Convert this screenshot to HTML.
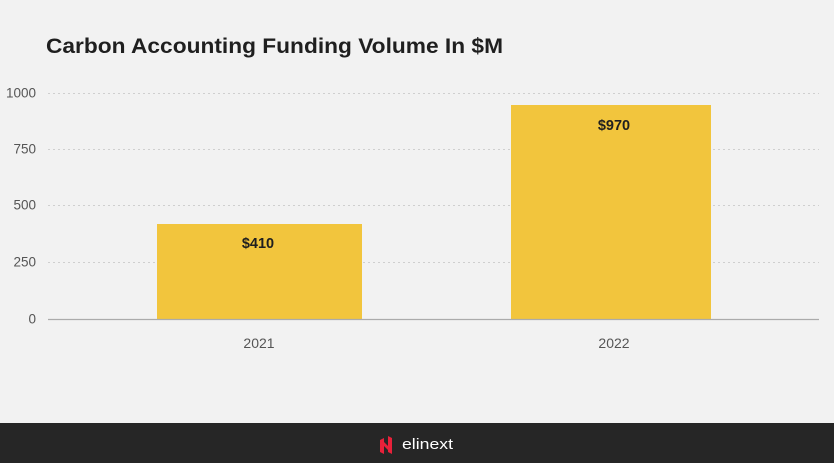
<!DOCTYPE html>
<html>
<head>
<meta charset="utf-8">
<style>
  html, body { margin: 0; padding: 0; background: #f2f2f2; }
  body { width: 834px; height: 463px; overflow: hidden; }
  svg { display: block; }
  text { font-family: "Liberation Sans", "DejaVu Sans", sans-serif; }
</style>
</head>
<body>
<svg width="834" height="463" viewBox="0 0 834 463" xmlns="http://www.w3.org/2000/svg">
  <rect x="0" y="0" width="834" height="463" fill="#f2f2f2"/>

  <!-- Title -->
  <text x="46" y="53" font-size="21" font-weight="bold" fill="#1f1f1f" textLength="457" lengthAdjust="spacingAndGlyphs">Carbon Accounting Funding Volume In $M</text>

  <!-- Gridlines -->
  <g stroke="#cfcfcf" stroke-width="1" stroke-dasharray="2,3">
    <line x1="48" y1="93.5" x2="819" y2="93.5"/>
    <line x1="48" y1="149.5" x2="819" y2="149.5"/>
    <line x1="48" y1="205.5" x2="819" y2="205.5"/>
    <line x1="48" y1="262.5" x2="819" y2="262.5"/>
  </g>

  <!-- Y tick labels -->
  <g font-size="13.5" fill="#555555" text-anchor="end">
    <text x="36" y="97.5">1000</text>
    <text x="36" y="153.5">750</text>
    <text x="36" y="209.5">500</text>
    <text x="36" y="266.5">250</text>
    <text x="36" y="323.5">0</text>
  </g>

  <!-- Bars -->
  <rect x="157" y="224" width="205" height="95.5" fill="#f2c53d"/>
  <rect x="511" y="105" width="200" height="214.5" fill="#f2c53d"/>

  <!-- Baseline -->
  <line x1="48" y1="319.5" x2="819" y2="319.5" stroke="#ababab" stroke-width="1.2"/>

  <!-- Bar labels -->
  <g font-size="14.5" font-weight="bold" fill="#1f1f1f" text-anchor="middle">
    <text x="258" y="248">$410</text>
    <text x="614" y="130">$970</text>
  </g>

  <!-- X labels -->
  <g font-size="14" fill="#555555" text-anchor="middle">
    <text x="259" y="348">2021</text>
    <text x="614" y="348">2022</text>
  </g>

  <!-- Footer -->
  <rect x="0" y="423" width="834" height="40" fill="#262626"/>
  <!-- Logo icon -->
  <g fill="#e8213a">
    <polygon points="380,440 384,438 384,454 380,452"/>
    <polygon points="384,442 388,446 388,450 384,446"/>
    <polygon points="388,436 392,438 392,454 388,452"/>
  </g>
  <text x="402" y="449" font-size="15" fill="#ffffff" textLength="51" lengthAdjust="spacingAndGlyphs">elinext</text>
</svg>
</body>
</html>
